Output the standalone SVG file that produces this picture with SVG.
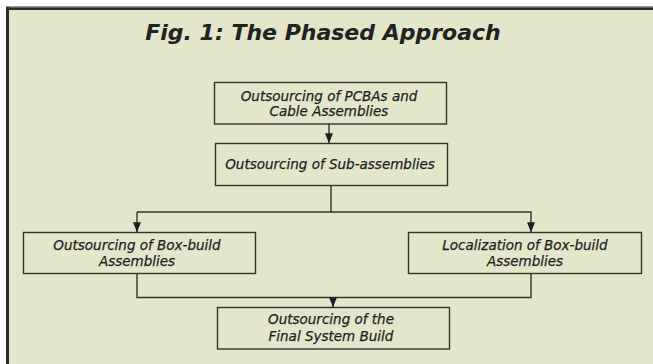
<svg xmlns="http://www.w3.org/2000/svg" width="653" height="364" viewBox="0 0 653 364">
  <style>
    .box { fill: none; stroke: #33332f; stroke-width: 1.4; }
    .lbl { font-family: "DejaVu Sans", "Liberation Sans", sans-serif; font-style: italic; font-size: 13.5px; fill: #1e1e1e; stroke: #1e1e1e; stroke-width: 0.25; text-anchor: middle; }
    .title { font-family: "DejaVu Sans", "Liberation Sans", sans-serif; font-style: italic; font-weight: bold; font-size: 22px; fill: #222; text-anchor: middle; }
    .wire { fill: none; stroke: #33332f; stroke-width: 1.4; }
  </style>
  <defs>
    <marker id="tip" viewBox="0 0 10 8" refX="10" refY="4" markerWidth="10" markerHeight="9" markerUnits="userSpaceOnUse" orient="auto">
      <path d="M0,0 L10,4 L0,8 Z" fill="#1e1e1e"/>
    </marker>
  </defs>

  <!-- page and panel frame -->
  <rect x="0" y="0" width="653" height="364" fill="#ffffff"/>
  <rect x="9" y="10" width="644" height="354" fill="#e3e6c8"/>
  <line x1="6" y1="6.5" x2="653" y2="6.5" stroke="#9a9a98" stroke-width="1"/>
  <line x1="6" y1="8.6" x2="653" y2="8.6" stroke="#2b2b2b" stroke-width="2.8"/>
  <line x1="7.5" y1="7" x2="7.5" y2="364" stroke="#2b2b2b" stroke-width="3"/>

  <text class="title" x="323" y="40">Fig. 1: The Phased Approach</text>

  <g id="connectors">
    <line class="wire" x1="329" y1="124" x2="329" y2="143.3" marker-end="url(#tip)"/>
    <polyline class="wire" points="331,185.5 331,212 137,212"/>
    <line class="wire" x1="137" y1="212" x2="137" y2="232.3" marker-end="url(#tip)"/>
    <polyline class="wire" points="331,212 531,212 531,232.3" marker-end="url(#tip)"/>
    <polyline class="wire" points="137,273.5 137,297.5 531,297.5 531,273.5"/>
    <line class="wire" x1="333" y1="297.5" x2="333" y2="307.3" marker-end="url(#tip)"/>
  </g>

  <g id="pcba">
    <rect class="box" x="214.5" y="82.5" width="232" height="41.5"/>
    <text class="lbl" x="329" y="100.5">Outsourcing of PCBAs and</text>
    <text class="lbl" x="329" y="115.7">Cable Assemblies</text>
  </g>

  <g id="subassemblies">
    <rect class="box" x="215.5" y="143.5" width="232" height="42"/>
    <text class="lbl" x="330" y="169">Outsourcing of Sub-assemblies</text>
  </g>

  <g id="boxbuild-out">
    <rect class="box" x="23.5" y="232.5" width="232" height="41"/>
    <text class="lbl" x="137" y="250">Outsourcing of Box-build</text>
    <text class="lbl" x="137" y="265.5">Assemblies</text>
  </g>

  <g id="boxbuild-local">
    <rect class="box" x="408.5" y="232.5" width="233" height="41"/>
    <text class="lbl" x="525" y="250">Localization of Box-build</text>
    <text class="lbl" x="525" y="265.5">Assemblies</text>
  </g>

  <g id="final">
    <rect class="box" x="217.5" y="307.5" width="232" height="41.5"/>
    <text class="lbl" x="331" y="324.3">Outsourcing of the</text>
    <text class="lbl" x="331" y="340.5">Final System Build</text>
  </g>
</svg>
